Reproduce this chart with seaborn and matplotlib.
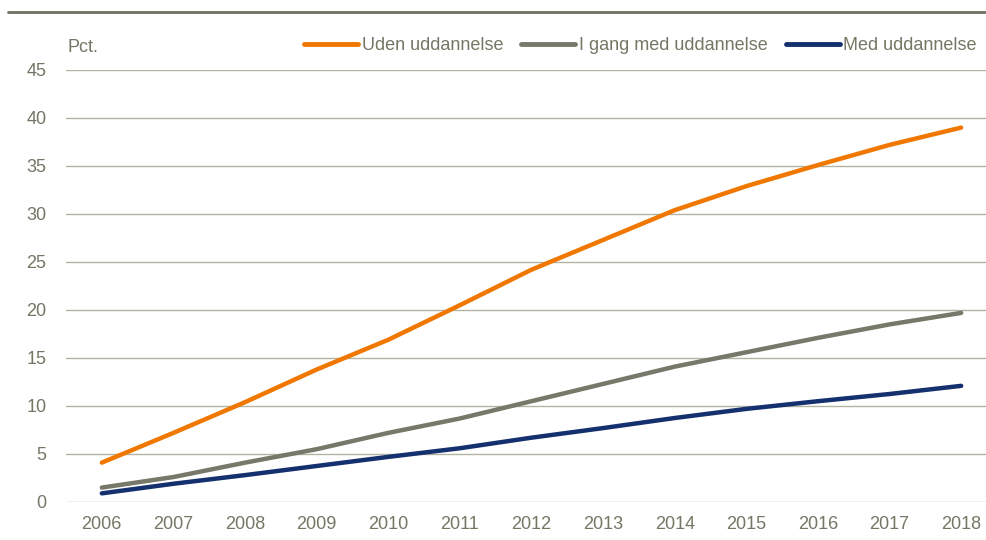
import matplotlib
matplotlib.use("Agg")
import matplotlib.pyplot as plt
from matplotlib.lines import Line2D
import seaborn as sns
import pandas as pd

years = ["2006", "2007", "2008", "2009", "2010", "2011", "2012",
         "2013", "2014", "2015", "2016", "2017", "2018"]
uden = [4.1, 7.2, 10.4, 13.8, 16.9, 20.5, 24.2, 27.3, 30.4, 32.9, 35.1, 37.2, 39.0]
i_gang = [1.5, 2.6, 4.1, 5.5, 7.2, 8.7, 10.5, 12.3, 14.1, 15.6, 17.1, 18.5, 19.7]
med = [0.9, 1.9, 2.8, 3.75, 4.7, 5.6, 6.7, 7.7, 8.75, 9.7, 10.5, 11.25, 12.1]
series_names = ["Uden uddannelse", "I gang med uddannelse", "Med uddannelse"]
colors = ["#f07800", "#77776a", "#14306e"]
yticks = [0, 5, 10, 15, 20, 25, 30, 35, 40, 45]

df = pd.DataFrame({
    "x": list(range(len(years))) * 3,
    "value": uden + i_gang + med,
    "serie": [s for s in series_names for _ in years],
})

sns.set_theme(style="white")
plt.rcParams["font.family"] = ["Liberation Sans", "DejaVu Sans"]
text_color = "#767665"
grid_color = "#b3b3a3"

fig = plt.figure(figsize=(9.87, 5.4), dpi=100)
ax = fig.add_axes([66 / 987, 38 / 540, 931 / 987, 432 / 540])

sns.lineplot(data=df, x="x", y="value", hue="serie", palette=colors,
             hue_order=series_names, linewidth=3.2, sort=False,
             legend=False, ax=ax, solid_capstyle="round")

ax.set_xlim(-0.5, len(years) - 0.5)
ax.set_ylim(0, 45)
ax.set_yticks(yticks)
ax.set_yticklabels([str(t) for t in yticks])
ax.set_xticks(range(len(years)))
ax.set_xticklabels(years)
ax.tick_params(axis="both", length=0, labelsize=13, colors=text_color)
ax.tick_params(axis="y", pad=14)
ax.tick_params(axis="x", pad=10)
ax.set_xlabel("")
ax.set_ylabel("")
for sp in ax.spines.values():
    sp.set_visible(False)
ax.yaxis.grid(True, color=grid_color, linewidth=1.0)
ax.set_axisbelow(True)

fig.text(68 / 987, 1 - 48 / 540, "Pct.", color=text_color, fontsize=13,
         ha="left", va="center")

handles = [Line2D([0], [0], color=c, lw=3.5, solid_capstyle="round") for c in colors]
fig.legend(handles, series_names, ncol=3, frameon=False,
           loc="center right", bbox_to_anchor=(977 / 987, 1 - 46 / 540),
           fontsize=13, labelcolor=text_color, handlelength=3.0,
           handletextpad=0.2, columnspacing=1.0, borderaxespad=0, borderpad=0)

fig.add_artist(Line2D([8 / 987, 1.0], [1 - 12 / 540, 1 - 12 / 540],
                      color="#6f6f60", lw=2, transform=fig.transFigure))

fig.savefig("out.png", dpi=100)
